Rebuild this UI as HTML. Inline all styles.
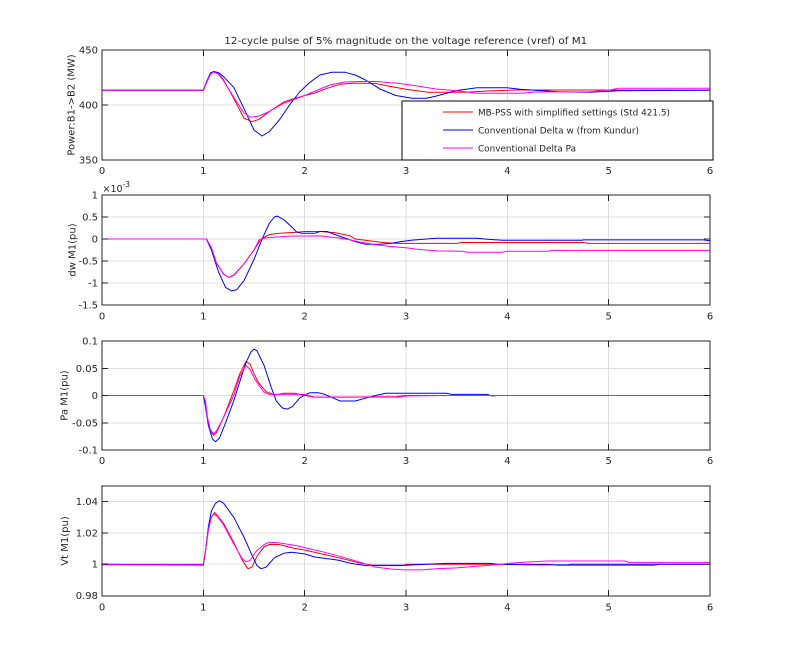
<!DOCTYPE html>
<html>
<head>
<meta charset="utf-8">
<style>
html,body{margin:0;padding:0;background:#fff;}
svg{display:block;}
text{font-family:"DejaVu Sans","Liberation Sans",sans-serif;fill:#262626;}
</style>
</head>
<body>
<svg width="785" height="669" viewBox="0 0 785 669" xmlns="http://www.w3.org/2000/svg">
<rect x="0" y="0" width="785" height="669" fill="#ffffff"/>

<!-- Title -->
<text x="224.3" y="44" font-size="10" textLength="363" lengthAdjust="spacingAndGlyphs">12-cycle pulse of 5% magnitude on the voltage reference (vref) of M1</text>

<!-- ============ GRIDS ============ -->
<g stroke="#dfdfdf" stroke-width="1" shape-rendering="crispEdges" fill="none">
  <!-- plot1 -->
  <path d="M203.3,50V160M304.7,50V160M406,50V160M507.3,50V160M608.7,50V160M102,105H710"/>
  <!-- plot2 -->
  <path d="M203.3,195V305M304.7,195V305M406,195V305M507.3,195V305M608.7,195V305M102,217H710M102,239H710M102,261H710M102,283H710"/>
  <!-- plot3 -->
  <path d="M203.3,341V450M304.7,341V450M406,341V450M507.3,341V450M608.7,341V450M102,368.25H710M102,395.5H710M102,422.75H710"/>
  <!-- plot4 -->
  <path d="M203.3,486V596M304.7,486V596M406,486V596M507.3,486V596M608.7,486V596M102,501.5H710M102,532.8H710M102,564H710"/>
</g>

<!-- ============ DATA ============ -->
<g fill="none" stroke-width="1" stroke-linejoin="round">
  <!-- plot1 -->
  <path stroke="#ff0000" d="M102,90.3 L203.3,90.3 L206.4,83 L210.4,74.2 L213.5,71.7 L218.5,73.7 L223.6,80 L233.7,98.3 L243.9,118 L252,121.7 L259.1,119.3 L269.2,111.7 L284.4,101.7 L294.5,98.5 L304.7,95.5 L314.8,93 L327,88.3 L340,84.3 L352,83.3 L375,83.3 L388,86 L406,89.3 L428,92.3 L466,92.3 L487,91 L517,90 L710,90"/>
  <path stroke="#0000ff" d="M102,90.3 L203.3,90.3 L206.4,81.9 L210.4,73.1 L213.5,71.5 L218.5,72.6 L223.6,76.7 L233.7,87.3 L243.9,108.3 L254,130 L262.1,136 L269.2,131.7 L279.3,120 L289.5,105 L299.6,92 L309.7,82.5 L319.9,75 L332,72.3 L345,72.3 L355.3,75 L365.5,80 L380.7,89.3 L395.9,95.5 L412,98.3 L426.3,98.3 L436.4,96 L456.7,90.5 L477,87.7 L507,87.7 L520,89.3 L558,91.7 L590,92.3 L618.8,90.7 L710,90.2"/>
  <path stroke="#ff00ff" d="M102,90.3 L203.3,90.3 L206.4,83 L210.4,74.2 L213.5,72 L218.5,74.2 L223.6,80.8 L233.7,97 L243.9,113 L251,117.3 L259.1,116 L269.2,111.5 L284.4,103 L304.7,95.5 L320,89 L330,85 L345,82 L360,81.5 L378,81.5 L390,82.7 L396,83 L416,85.7 L436,89 L457,90.7 L477,93.3 L522,93.3 L535,92 L590,91.7 L610,90 L618,88.3 L710,88.3"/>

  <!-- plot2 -->
  <path stroke="#ff0000" d="M102,239 L206.4,239 L211.4,247.8 L216.5,263.2 L223.6,274.2 L228.7,277.3 L233.7,275.1 L243.9,264 L254,250 L261.1,239 L269.2,234.6 L279.3,233.3 L294.5,232.4 L304.7,231.5 L319.9,231.5 L335.1,232.8 L350.3,235.9 L355.3,239 L365.5,240.3 L380.7,242.3 L395.9,243.4 L456.7,243.4 L461.7,242.5 L583.3,242.5 L588.4,243.4 L710,243.4"/>
  <path stroke="#0000ff" d="M102,239 L206.4,239 L211.4,250 L218.5,272 L225.6,287.4 L231.7,290.9 L236.8,289.6 L243.9,280.8 L254,259.5 L262.1,239 L269.2,223.6 L274.3,217 L277.3,216.1 L284.4,220.1 L291.5,226.7 L296.6,232 L301.6,233.3 L314.8,233.3 L319.9,231.5 L327,231.5 L335.1,234.6 L345.2,238.1 L355.3,241.6 L365.5,244.3 L379.7,244.3 L390.8,243.4 L400.9,241.6 L411.1,240.3 L426.3,239 L436.4,238.3 L476.9,238.3 L487.1,239.2 L502.3,240.3 L582.3,240.3 L583.3,239.9 L702.9,239.9 L710,240.8"/>
  <path stroke="#ff00ff" d="M102,239 L206.4,239 L211.4,247.8 L216.5,263.2 L223.6,274.2 L228.7,277.3 L233.7,275.5 L243.9,264.1 L254,250 L259.1,239.9 L264.1,238.1 L274.3,237.2 L289.5,236.1 L319.9,235.9 L330,237 L340.1,238.1 L350.3,239.9 L360.4,242.1 L375.6,244.7 L390.8,246.5 L406,247.8 L416.1,249.1 L426.3,250 L436.4,250.9 L462.7,251.3 L466.8,252.2 L502.3,252.2 L507.3,251.3 L547.9,251.3 L552.9,250.4 L710,250.4"/>

  <!-- plot3 -->
  <path stroke="#ff0000" d="M102,395.5 L203.3,395.5 L205.4,401 L207.4,417.3 L210.4,430.9 L213.5,435.3 L216.5,432.6 L223.6,417.3 L233.7,391 L239.8,373.7 L245.9,361.7 L250,363.9 L254,373.7 L259.1,383.5 L266.2,391.7 L274.3,395 L284.4,393.3 L294.5,393.3 L304.7,395.5 L314.8,397.1 L345.2,397.1 L395.9,396.6 L406,395.5 L710,395.5"/>
  <path stroke="#0000ff" d="M102,395.5 L203.3,395.5 L205.4,406.4 L208.4,425.5 L212.5,439.1 L215.5,441.8 L219.5,438 L225.6,422.8 L233.7,401 L238.8,384.6 L245.9,362.8 L251,351.9 L254,349.2 L257,350.8 L264.1,365.5 L271.2,387.3 L276.3,401 L282.4,408 L287.4,409.1 L292.5,406.4 L299.6,398.2 L304.7,395 L309.7,392.8 L318.9,392.8 L324.9,394.4 L335.1,398.8 L340.1,401 L355.3,401 L365.5,398.2 L375.6,395.5 L385.7,393.3 L446.5,393.3 L451.6,394.4 L487.1,394.4 L492.1,396 L497.2,395.5 L710,395.5"/>
  <path stroke="#ff00ff" d="M102,395.5 L203.3,395.5 L205.4,401 L207.4,417.3 L210.4,429.8 L213.5,433.7 L216.5,430.9 L223.6,417.3 L233.7,395.5 L239.8,376.4 L245.9,365.5 L250,369.3 L254,377.5 L259.1,385.7 L264.1,392.2 L269.2,394.4 L304.7,394.4 L314.8,397.1 L399.9,397.1 L406,396 L446.5,395.5 L710,395.5"/>

  <!-- plot4 -->
  <path stroke="#ff0000" d="M102,564.8 L203.3,564.8 L205.4,551.5 L208.4,529.7 L211.4,517.2 L214.5,512.5 L217.5,515.6 L223.6,523.4 L233.7,542.2 L241.8,559.3 L247.9,568.7 L252,567.1 L257,556.2 L264.1,546.8 L269.2,544.5 L279.3,544.5 L294.5,548.4 L304.7,550 L324.9,554.6 L345.2,559.3 L360.4,563.2 L375.6,565.6 L404,565.6 L406,564.3 L547.9,564.3 L558,565.2 L654,565.2 L659.3,564.3 L710,564.3"/>
  <path stroke="#0000ff" d="M102,564.3 L203.3,565 L205.4,551.5 L208.4,526.6 L211.4,511 L215.5,503.2 L219.5,500.8 L223.6,503.2 L233.7,517.2 L243.9,537 L251,553.1 L257,565.6 L261.1,568.7 L266.2,567.1 L274.3,557.8 L284.4,553.1 L291.5,552.3 L304.7,553.9 L314.8,557 L338.1,560.1 L350.3,563.2 L365.5,565.6 L373.6,565.2 L406,565.2 L426.3,564.3 L446.5,563.4 L490,563.4 L497.2,564.3 L532.7,564.9 L568.1,564.9 L570.2,564.3 L710,564.3"/>
  <path stroke="#ff00ff" d="M102,564.3 L203.3,564.3 L205.4,551.5 L208.4,529.7 L211.4,517.2 L213.5,514.1 L217.5,516.4 L223.6,525 L233.7,543.7 L241.8,558 L245.9,561.7 L250,560.5 L256,551.5 L264.1,544.5 L269.2,542.2 L279.3,542.9 L294.5,545.3 L304.7,547.6 L324.9,552.3 L345.2,557.8 L360.4,562.4 L375.6,567.1 L390.8,569 L404,569.9 L421.2,569.9 L436.4,568.7 L456.7,567.9 L476.9,566.3 L502.3,564.3 L507.3,563.4 L522.5,562.4 L546.9,561 L624.9,561 L628.9,562.4 L710,562.4"/>
</g>

<!-- ============ AXES BOXES + TICKS ============ -->
<g stroke="#262626" stroke-width="1" fill="none" shape-rendering="crispEdges">
  <rect x="102" y="50" width="608" height="110"/>
  <rect x="102" y="195" width="608" height="110"/>
  <rect x="102" y="341" width="608" height="109"/>
  <rect x="102" y="486" width="608" height="110"/>
  <!-- x ticks (bottom & top) -->
  <path d="M203.3,160v-6M304.7,160v-6M406,160v-6M507.3,160v-6M608.7,160v-6M203.3,50v6M304.7,50v6M406,50v6M507.3,50v6M608.7,50v6"/>
  <path d="M203.3,305v-6M304.7,305v-6M406,305v-6M507.3,305v-6M608.7,305v-6M203.3,195v6M304.7,195v6M406,195v6M507.3,195v6M608.7,195v6"/>
  <path d="M203.3,450v-6M304.7,450v-6M406,450v-6M507.3,450v-6M608.7,450v-6M203.3,341v6M304.7,341v6M406,341v6M507.3,341v6M608.7,341v6"/>
  <path d="M203.3,596v-6M304.7,596v-6M406,596v-6M507.3,596v-6M608.7,596v-6M203.3,486v6M304.7,486v6M406,486v6M507.3,486v6M608.7,486v6"/>
  <!-- y ticks (left & right) -->
  <path d="M102,105h6M710,105h-6"/>
  <path d="M102,217h6M102,239h6M102,261h6M102,283h6M710,217h-6M710,239h-6M710,261h-6M710,283h-6"/>
  <path d="M102,368.25h6M102,395.5h6M102,422.75h6M710,368.25h-6M710,395.5h-6M710,422.75h-6"/>
  <path d="M102,501.5h6M102,532.8h6M102,564h6M710,501.5h-6M710,532.8h-6M710,564h-6"/>
</g>

<!-- ============ TICK LABELS ============ -->
<g font-size="10" text-anchor="middle">
  <text x="102" y="174">0</text><text x="203.3" y="174">1</text><text x="304.7" y="174">2</text><text x="406" y="174">3</text><text x="507.3" y="174">4</text><text x="608.7" y="174">5</text><text x="710" y="174">6</text>
  <text x="102" y="319.5">0</text><text x="203.3" y="319.5">1</text><text x="304.7" y="319.5">2</text><text x="406" y="319.5">3</text><text x="507.3" y="319.5">4</text><text x="608.7" y="319.5">5</text><text x="710" y="319.5">6</text>
  <text x="102" y="464">0</text><text x="203.3" y="464">1</text><text x="304.7" y="464">2</text><text x="406" y="464">3</text><text x="507.3" y="464">4</text><text x="608.7" y="464">5</text><text x="710" y="464">6</text>
  <text x="102" y="610.5">0</text><text x="203.3" y="610.5">1</text><text x="304.7" y="610.5">2</text><text x="406" y="610.5">3</text><text x="507.3" y="610.5">4</text><text x="608.7" y="610.5">5</text><text x="710" y="610.5">6</text>
</g>
<g font-size="10" text-anchor="end">
  <text x="98" y="53.6">450</text><text x="98" y="108.6">400</text><text x="98" y="163.6">350</text>
  <text x="98" y="198.6">1</text><text x="98" y="220.6">0.5</text><text x="98" y="242.6">0</text><text x="98" y="264.6">-0.5</text><text x="98" y="286.6">-1</text><text x="98" y="308.6">-1.5</text>
  <text x="98" y="344.6">0.1</text><text x="98" y="371.85">0.05</text><text x="98" y="399.1">0</text><text x="98" y="426.35">-0.05</text><text x="98" y="453.6">-0.1</text>
  <text x="98" y="505.1">1.04</text><text x="98" y="536.4">1.02</text><text x="98" y="567.6">1</text><text x="98" y="599.2">0.98</text>
</g>

<!-- exponent -->
<text x="102.5" y="192" font-size="9.5">×10<tspan dy="-5" font-size="7.5">-3</tspan></text>

<!-- Y labels -->
<g font-size="10" text-anchor="middle">
  <text transform="translate(74.6,105) rotate(-90)">Power:B1-&gt;B2 (MW)</text>
  <text transform="translate(75.5,250) rotate(-90)">dw M1(pu)</text>
  <text transform="translate(67.3,395.5) rotate(-90)">Pa M1(pu)</text>
  <text transform="translate(68,541) rotate(-90)">Vt M1(pu)</text>
</g>

<!-- ============ LEGEND ============ -->
<rect x="402" y="101" width="311" height="59" fill="#ffffff" stroke="#000000" stroke-width="1" shape-rendering="crispEdges"/>
<g stroke-width="1" shape-rendering="crispEdges">
  <line x1="443" y1="112" x2="473" y2="112" stroke="#ff0000"/>
  <line x1="443" y1="130" x2="473" y2="130" stroke="#0000ff"/>
  <line x1="443" y1="148" x2="473" y2="148" stroke="#ff00ff"/>
</g>
<g font-size="9">
  <text x="478" y="115.6" textLength="192" lengthAdjust="spacingAndGlyphs">MB-PSS with simplified settings (Std 421.5)</text>
  <text x="478" y="133.6" textLength="161" lengthAdjust="spacingAndGlyphs">Conventional Delta w (from Kundur)</text>
  <text x="478" y="151.6" textLength="98" lengthAdjust="spacingAndGlyphs">Conventional Delta Pa</text>
</g>
</svg>
</body>
</html>
